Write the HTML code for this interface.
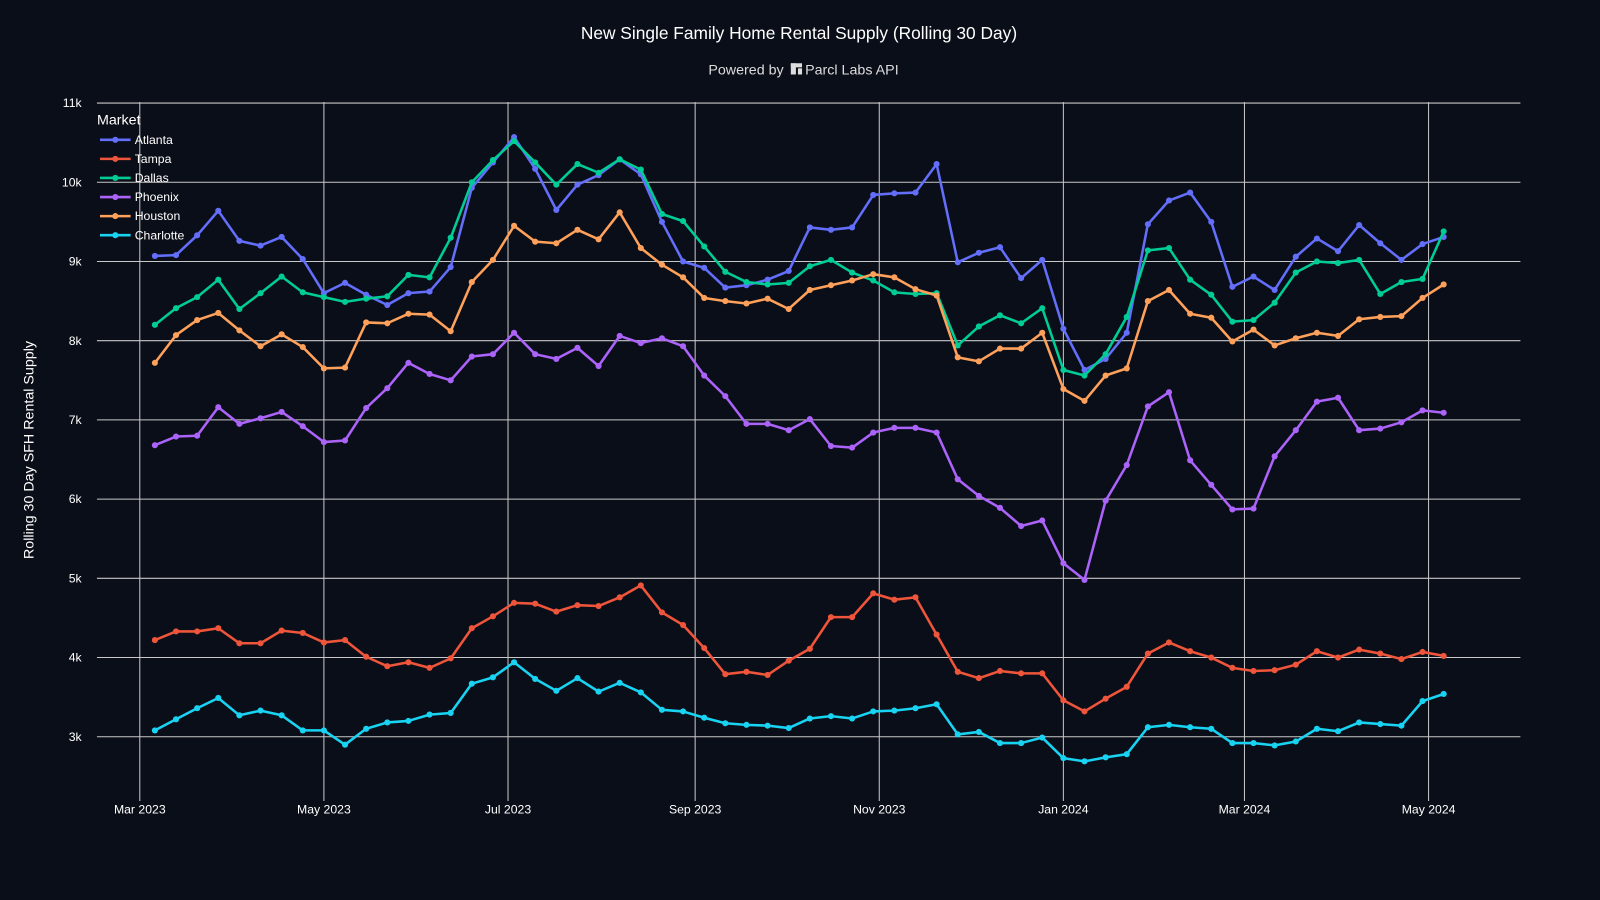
<!DOCTYPE html>
<html><head><meta charset="utf-8"><style>
html,body{margin:0;padding:0;background:#0a0e18;}
svg{display:block;font-family:"Liberation Sans","DejaVu Sans",sans-serif;}
</style></head><body>
<svg id="chart" width="1600" height="900" viewBox="0 0 1568 882">
<rect width="1568" height="882" fill="#0a0e18"/>
<text x="783" y="38" text-anchor="middle" fill="#fff" font-size="17">New Single Family Home Rental Supply (Rolling 30 Day)</text>
<g>
<text x="768" y="73" text-anchor="end" fill="#ddd" font-size="14">Powered by</text>
<rect x="775" y="62" width="5" height="11" fill="#ddd"/><rect x="775" y="62" width="11" height="4" fill="#ddd"/><rect x="782" y="67" width="4" height="6" fill="#ddd"/>
<text x="789" y="73" fill="#ddd" font-size="14">Parcl Labs API</text>
</g>
<g id="grid"></g>
<g id="axes"></g>
<g id="series"></g>
<text transform="translate(33,441) rotate(-90)" text-anchor="middle" fill="#fff" font-size="14">Rolling 30 Day SFH Rental Supply</text>
<g id="legend"></g>
</svg>
<script>
const seriesNames = ["Atlanta","Tampa","Dallas","Phoenix","Houston","Charlotte"];
const seriesColors = ["#636efa","#ef553b","#00cc96","#ab63fa","#ffa15a","#19d3f3"];
const startDate = "2023-03-06";
const atlanta = [9.07,9.08,9.33,9.64,9.26,9.2,9.31,9.03,8.6,8.73,8.58,8.45,8.6,8.62,8.93,9.93,10.25,10.57,10.17,9.65,9.97,10.09,10.29,10.1,9.5,9.0,8.92,8.67,8.7,8.77,8.88,9.43,9.4,9.43,9.84,9.86,9.87,10.23,8.99,9.11,9.18,8.79,9.02,8.15,7.63,7.77,8.1,9.47,9.77,9.87,9.5,8.68,8.81,8.64,9.06,9.29,9.13,9.46,9.23,9.02,9.22,9.31];
const tampa = [4.22,4.33,4.33,4.37,4.18,4.18,4.34,4.31,4.19,4.22,4.01,3.89,3.94,3.87,3.99,4.37,4.52,4.69,4.68,4.58,4.66,4.65,4.76,4.91,4.57,4.41,4.12,3.79,3.82,3.78,3.96,4.11,4.51,4.51,4.81,4.73,4.76,4.29,3.82,3.74,3.83,3.8,3.8,3.46,3.32,3.48,3.63,4.05,4.19,4.08,4.0,3.87,3.83,3.84,3.91,4.08,4.0,4.1,4.05,3.98,4.07,4.02];
const dallas = [8.2,8.41,8.55,8.77,8.4,8.6,8.81,8.61,8.55,8.49,8.53,8.56,8.83,8.8,9.3,10.0,10.28,10.52,10.25,9.97,10.23,10.12,10.29,10.16,9.6,9.51,9.19,8.87,8.74,8.71,8.73,8.94,9.02,8.86,8.76,8.61,8.59,8.6,7.94,8.18,8.32,8.22,8.41,7.63,7.56,7.83,8.3,9.14,9.17,8.77,8.58,8.24,8.26,8.48,8.86,9.0,8.98,9.02,8.59,8.74,8.78,9.38];
const phoenix = [6.68,6.79,6.8,7.16,6.95,7.02,7.1,6.92,6.72,6.74,7.15,7.4,7.72,7.58,7.5,7.8,7.83,8.1,7.83,7.77,7.91,7.68,8.06,7.97,8.03,7.93,7.56,7.3,6.95,6.95,6.87,7.01,6.67,6.65,6.84,6.9,6.9,6.84,6.25,6.04,5.89,5.66,5.73,5.19,4.98,5.98,6.43,7.17,7.35,6.49,6.18,5.87,5.88,6.54,6.87,7.23,7.28,6.87,6.89,6.97,7.12,7.09];
const houston = [7.72,8.07,8.26,8.35,8.13,7.93,8.08,7.92,7.65,7.66,8.23,8.22,8.34,8.33,8.12,8.74,9.02,9.45,9.25,9.23,9.4,9.28,9.62,9.17,8.96,8.8,8.54,8.5,8.47,8.53,8.4,8.64,8.7,8.76,8.84,8.8,8.65,8.57,7.79,7.74,7.9,7.9,8.1,7.39,7.24,7.56,7.65,8.5,8.64,8.34,8.29,7.99,8.14,7.94,8.03,8.1,8.06,8.27,8.3,8.31,8.54,8.71];
const charlotte = [3.08,3.22,3.36,3.49,3.27,3.33,3.27,3.08,3.08,2.9,3.1,3.18,3.2,3.28,3.3,3.67,3.75,3.94,3.73,3.58,3.74,3.57,3.68,3.56,3.34,3.32,3.24,3.17,3.15,3.14,3.11,3.23,3.26,3.23,3.32,3.33,3.36,3.41,3.03,3.06,2.92,2.92,2.99,2.73,2.69,2.74,2.78,3.12,3.15,3.12,3.1,2.92,2.92,2.89,2.94,3.1,3.07,3.18,3.16,3.14,3.45,3.54];
const yTicks = [3,4,5,6,7,8,9,10,11];
const yTickLabels = ["3k","4k","5k","6k","7k","8k","9k","10k","11k"];
const xTickDates = ["2023-03-01","2023-05-01","2023-07-01","2023-09-01","2023-11-01","2024-01-01","2024-03-01","2024-05-01"];
const xTickLabels = ["Mar 2023","May 2023","Jul 2023","Sep 2023","Nov 2023","Jan 2024","Mar 2024","May 2024"];

const NS="http://www.w3.org/2000/svg";
const PL=95, PR=1490, PT=100, PB=785;
const d0=Date.parse("2023-03-01"), d1=Date.parse("2024-05-01");
function xDate(ms){return 137+(ms-d0)/(d1-d0)*(1400-137);}
function yVal(v){return 722-(v-3)*(722-101)/8;}
function mk(tag,attrs,parent){const e=document.createElementNS(NS,tag);for(const k in attrs)e.setAttribute(k,attrs[k]);parent.appendChild(e);return e;}
const grid=document.getElementById('grid'), axes=document.getElementById('axes');
yTicks.forEach((t,i)=>{
  const y=yVal(t);
  const l=mk('line',{x1:PL,x2:PR,y1:y,y2:y,stroke:'#c8c8c8','stroke-width':1},grid);
  
  
  const tx=mk('text',{x:80,y:y+4,'text-anchor':'end',fill:'#fff','font-size':12},axes);
  tx.textContent=yTickLabels[i];
  
  
});
xTickDates.forEach((d,i)=>{
  const x=xDate(Date.parse(d));
  const l=mk('line',{x1:x,x2:x,y1:PT,y2:PB,stroke:'#c8c8c8','stroke-width':1},grid);
  
  
  const tx=mk('text',{x:x,y:797,'text-anchor':'middle',fill:'#fff','font-size':12},axes);
  tx.textContent=xTickLabels[i];
  
  
});
const data=[atlanta,tampa,dallas,phoenix,houston,charlotte];
const s0=Date.parse(startDate), wk=7*86400000;
const sg=document.getElementById('series');
data.forEach((arr,si)=>{
  const g=mk('g',{},sg);
  
  
  const pts=arr.map((v,i)=>xDate(s0+i*wk).toFixed(1)+','+yVal(v).toFixed(1));
  mk('polyline',{points:pts.join(' '),fill:'none',stroke:seriesColors[si],'stroke-width':2.5,'stroke-linejoin':'round'},g);
  arr.forEach((v,i)=>{
    const c=mk('circle',{cx:xDate(s0+i*wk),cy:yVal(v),r:3,fill:seriesColors[si]},g);
    
    
  });
});
const lg=document.getElementById('legend');
const lt=mk('text',{x:95,y:122,fill:'#fff','font-size':14},lg);
lt.textContent='Market';


seriesNames.forEach((n,i)=>{
  const y=137+i*18.7;
  const g=mk('g',{},lg);
  
  
  mk('line',{x1:98,x2:128,y1:y,y2:y,stroke:seriesColors[i],'stroke-width':2.5},g);
  mk('circle',{cx:113,cy:y,r:3,fill:seriesColors[i]},g);
  const t=mk('text',{x:132,y:y+4,fill:'#fff','font-size':12},g);
  t.textContent=n;
});
</script>
</body></html>
